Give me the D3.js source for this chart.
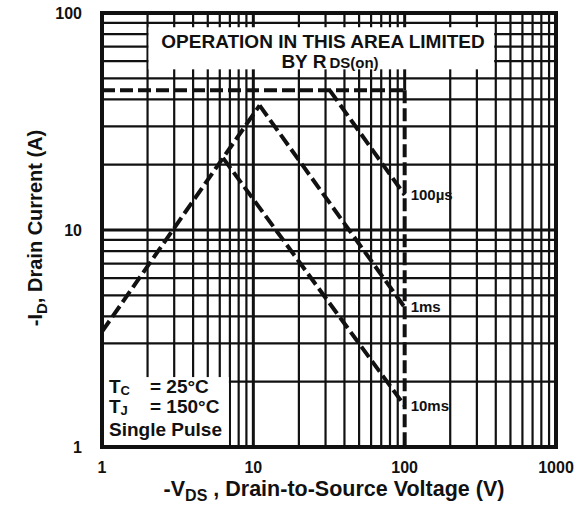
<!DOCTYPE html>
<html>
<head>
  <meta charset="utf-8">
  <title>Maximum Safe Operating Area</title>
  <script src="https://d3js.org/d3.v7.min.js"></script>
  <style>
    body { margin: 0; background: #fff; }
    text { font-family: "Liberation Sans", Arial, sans-serif; font-weight: bold; fill: #111; }
  </style>
</head>
<body>
  <svg width="578" height="506"></svg>
  <script>
// axis ticks
const xTicks = [1, 10, 100, 1000];
const yTicks = [1, 10, 100];

// limit lines (V = -VDS in volts, I = -ID in amps)
const rdsV = [1, 11];
const rdsI = [3.4, 37.5];
const currentV = [1, 100];
const currentI = [44, 44];
const voltageV = [100, 100];
const voltageI = [44, 1];
const us100V = [32, 100];
const us100I = [44, 14.5];
const ms1V = [11, 100];
const ms1I = [37.5, 4.4];
const ms10V = [6.3, 100];
const ms10I = [21.5, 1.55];

const pulseLabels = ['100\u00b5s', '1ms', '10ms'];
const pulseEndI = [14.5, 4.4, 1.55];

const svg = d3.select('svg');

const x = d3.scaleLog().domain([1, 1000]).range([102, 556]);
const y = d3.scaleLog().domain([1, 100]).range([447, 13]);

// minor grid values (2..9 in each decade)
const xMinor = [];
[1, 10, 100].forEach(d => { for (let k = 2; k <= 9; k++) xMinor.push(k * d); });
const yMinor = [];
[1, 10].forEach(d => { for (let k = 2; k <= 9; k++) yMinor.push(k * d); });

const grid = svg.append('g').attr('stroke', '#111');

grid.selectAll('.vx').data(xMinor).join('line')
  .attr('x1', d => x(d)).attr('x2', d => x(d))
  .attr('y1', y(1)).attr('y2', y(100))
  .attr('stroke-width', 2.2);

grid.selectAll('.hy').data(yMinor).join('line')
  .attr('x1', x(1)).attr('x2', x(1000))
  .attr('y1', d => y(d)).attr('y2', d => y(d))
  .attr('stroke-width', 2.2);

// decade lines
grid.append('line')
  .attr('x1', x(10)).attr('x2', x(10))
  .attr('y1', y(1)).attr('y2', y(100))
  .attr('stroke-width', 3);
grid.append('line')
  .attr('x1', x(100)).attr('x2', x(100))
  .attr('y1', y(currentI[0])).attr('y2', y(100))
  .attr('stroke-width', 3);
grid.append('line')
  .attr('x1', x(1)).attr('x2', x(1000))
  .attr('y1', y(10)).attr('y2', y(10))
  .attr('stroke-width', 3);

// white boxes behind the notes
svg.append('rect')
  .attr('x', x(2) + 1).attr('y', y(86))
  .attr('width', x(390) - x(2) - 1).attr('height', y(55) - y(86))
  .attr('fill', '#fff');
svg.append('rect')
  .attr('x', x(1)).attr('y', y(2.1))
  .attr('width', x(7) - x(1) - 1).attr('height', y(1) - y(2.1))
  .attr('fill', '#fff');

// frame
svg.append('rect')
  .attr('x', x(1)).attr('y', y(100))
  .attr('width', x(1000) - x(1)).attr('height', y(1) - y(100))
  .attr('fill', 'none').attr('stroke', '#111').attr('stroke-width', 4);

// dashed limit lines
const line = d3.line().x(d => x(d[0])).y(d => y(d[1]));
const series = [
  [rdsV, rdsI], [currentV, currentI], [voltageV, voltageI],
  [us100V, us100I], [ms1V, ms1I], [ms10V, ms10I]
];
svg.selectAll('.lim').data(series).join('path')
  .attr('d', s => line(d3.zip(s[0], s[1])))
  .attr('fill', 'none')
  .attr('stroke', '#111')
  .attr('stroke-width', 4)
  .attr('stroke-dasharray', '13,5');

// pulse labels at the 100 V end
svg.selectAll('.plab').data(pulseLabels).join('text')
  .attr('x', x(100) + 6)
  .attr('y', (d, i) => y(pulseEndI[i]) + 5)
  .attr('font-size', 15)
  .text(d => d);

// tick labels
svg.selectAll('.xt').data(xTicks).join('text')
  .attr('x', d => x(d)).attr('y', 473)
  .attr('text-anchor', 'middle').attr('font-size', 16)
  .text(d => d);
svg.selectAll('.yt').data(yTicks).join('text')
  .attr('x', 82).attr('y', d => y(d) + 6)
  .attr('text-anchor', 'end').attr('font-size', 16)
  .text(d => d);

// axis titles
const xt = svg.append('text')
  .attr('x', 334).attr('y', 496)
  .attr('text-anchor', 'middle').attr('font-size', 21.5);
xt.append('tspan').text('-V');
xt.append('tspan').attr('font-size', 16).attr('dy', 5).text('DS');
xt.append('tspan').attr('dy', -5).text(' , Drain-to-Source Voltage (V)');

const yt = svg.append('text')
  .attr('transform', 'translate(42,228) rotate(-90)')
  .attr('text-anchor', 'middle').attr('font-size', 20);
yt.append('tspan').text('-I');
yt.append('tspan').attr('font-size', 15).attr('dy', 5).text('D');
yt.append('tspan').attr('dy', -5).text(', Drain Current (A)');

// note in the upper box
svg.append('text')
  .attr('x', 323).attr('y', 48)
  .attr('text-anchor', 'middle').attr('font-size', 19)
  .text('OPERATION IN THIS AREA LIMITED');
const by = svg.append('text')
  .attr('x', 330).attr('y', 68)
  .attr('text-anchor', 'middle').attr('font-size', 19);
by.append('tspan').text('BY R');
by.append('tspan').attr('font-size', 15).attr('dx', 3).text('DS(on)');

// conditions in the lower box
const tc = svg.append('text').attr('x', 109).attr('y', 393).attr('font-size', 19);
tc.append('tspan').text('T');
tc.append('tspan').attr('font-size', 13).attr('dy', 2).text('C');
svg.append('text').attr('x', 150).attr('y', 393).attr('font-size', 19).text('= 25\u00b0C');

const tj = svg.append('text').attr('x', 109).attr('y', 413).attr('font-size', 19);
tj.append('tspan').text('T');
tj.append('tspan').attr('font-size', 13).attr('dy', 2).text('J');
svg.append('text').attr('x', 150).attr('y', 413).attr('font-size', 19).text('= 150\u00b0C');

svg.append('text').attr('x', 109).attr('y', 436).attr('font-size', 19).text('Single Pulse');
  </script>
</body>
</html>
